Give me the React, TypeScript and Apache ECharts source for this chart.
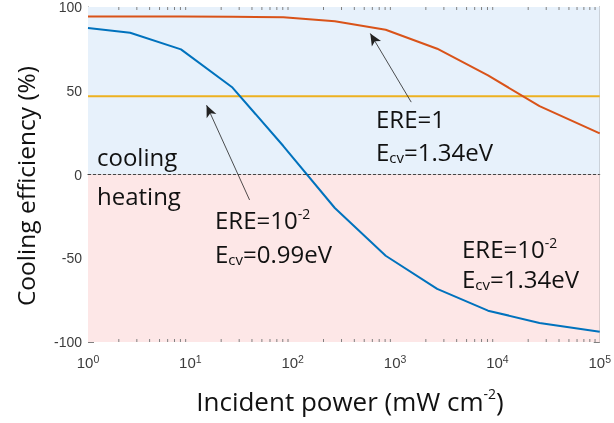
import { useEffect, useRef } from "react";
import * as echarts from "echarts";

// Incident power samples (mW cm^-2)
const powers = [1, 2.58, 8.1, 25.8, 81, 258, 810, 2580, 8100, 25800, 100000];
// ERE = 1, Ecv = 1.34 eV (orange)
const ere1Ecv134 = [94.3, 94.3, 94.3, 94.2, 93.9, 91.5, 86.4, 75.1, 59.2, 40.8, 24.5];
// ERE = 1e-2, Ecv = 1.34 eV (blue)
const ere2Ecv134 = [87.5, 84.6, 74.7, 51.9, 17.0, -20.0, -48.5, -68.3, -81.3, -88.6, -93.9];
// ERE = 1e-2, Ecv = 0.99 eV (yellow)
const flatPowers = [1, 100000];
const ere2Ecv099 = [46.7, 46.7];

const yMin = -100;
const yMax = 100;
const yStep = 50;
const xMin = 1;
const xMax = 100000;

const minorTickValues: number[] = [];
for (let k = 0; k < 5; k++) {
  for (let m = 2; m <= 9; m++) minorTickValues.push(m * Math.pow(10, k));
}

const AXIS = "#808080";
const LABEL = "#3c3c3c";
const FONT = "Open Sans";

const annRich = {
  m: { fontSize: 24, fontFamily: FONT, fill: "#111", lineHeight: 26 },
  sub: { fontSize: 15, fontFamily: FONT, fill: "#111", lineHeight: 12, verticalAlign: "bottom" },
  sup: { fontSize: 14, fontFamily: FONT, fill: "#111", lineHeight: 12, verticalAlign: "top" },
};

function ann(text: string, x: number, y: number) {
  return {
    type: "text",
    x,
    y,
    z: 100,
    silent: true,
    style: {
      text,
      rich: annRich,
      fontSize: 24,
      fontFamily: FONT,
      fill: "#111",
      align: "left",
      verticalAlign: "top",
    },
  };
}

export default function App() {
  const ref = useRef<HTMLDivElement>(null);
  useEffect(() => {
    if (!ref.current) return;
    const chart = echarts.init(ref.current, undefined, { renderer: "svg" });
    const xAxisCommon = {
      type: "log",
      logBase: 10,
      min: xMin,
      max: xMax,
      splitNumber: 5,
      axisLine: { show: true, lineStyle: { color: AXIS, width: 1 } },
      axisTick: { show: true, inside: true, length: 6, lineStyle: { color: AXIS } },
      splitLine: { show: false },
      minorTick: { show: false },
    };
    const yAxisCommon = {
      type: "value",
      min: yMin,
      max: yMax,
      interval: yStep,
      axisLine: { show: true, onZero: false, lineStyle: { color: AXIS, width: 1 } },
      axisTick: { show: true, inside: true, length: 6, lineStyle: { color: AXIS } },
      splitLine: { show: false },
    };
    chart.setOption({
      animation: false,
      grid: { left: 88, right: 13, top: 6, bottom: 81, containLabel: false },
      xAxis: [
        {
          ...xAxisCommon,
          position: "bottom",
          axisLabel: {
            show: true,
            margin: 11,
            formatter: (v: number) => "{b|10}{s|" + Math.round(Math.log10(v)) + "}",
            rich: {
              b: { fontSize: 15, fontFamily: "Liberation Sans", color: LABEL, lineHeight: 19 },
              s: { fontSize: 10.5, fontFamily: "Liberation Sans", color: LABEL, lineHeight: 10, verticalAlign: "top" },
            },
          },
        },
        { ...xAxisCommon, position: "top", axisLabel: { show: false } },
      ],
      yAxis: [
        {
          ...yAxisCommon,
          position: "left",
          axisLabel: { show: true, margin: 6, fontSize: 14, fontFamily: "Liberation Sans", color: LABEL },
        },
        { ...yAxisCommon, position: "right", axisLabel: { show: false } },
      ],
      graphic: [
        {
          type: "text",
          x: 25,
          y: 186,
          rotation: Math.PI / 2,
          silent: true,
          style: {
            text: "Cooling efficiency (%)",
            fontSize: 24.5,
            fontFamily: FONT,
            fill: "#111",
            align: "center",
            verticalAlign: "middle",
          },
        },
        {
          type: "text",
          x: 350,
          y: 401,
          silent: true,
          style: {
            text: "{m|Incident power (mW cm}{sup|-2}{m|)}",
            rich: {
              m: { fontSize: 26, fontFamily: FONT, fill: "#111", lineHeight: 30 },
              sup: { fontSize: 14, fontFamily: FONT, fill: "#111", lineHeight: 14, verticalAlign: "top" },
            },
            fontSize: 26,
            fontFamily: FONT,
            fill: "#111",
            align: "center",
            verticalAlign: "middle",
          },
        },
        ann("{m|cooling}", 97, 143),
        ann("{m|heating}", 97, 182),
        ann("{m|ERE=1}", 376, 105),
        ann("{m|E}{sub|cv}{m|=1.34eV}", 376, 138),
        ann("{m|ERE=10}{sup|-2}", 215, 206),
        ann("{m|E}{sub|cv}{m|=0.99eV}", 215, 240),
        ann("{m|ERE=10}{sup|-2}", 462, 235),
        ann("{m|E}{sub|cv}{m|=1.34eV}", 462, 265),
      ],
      series: [
        {
          name: "bg",
          type: "line",
          data: [],
          xAxisIndex: 0,
          yAxisIndex: 0,
          z: 1,
          silent: true,
          markArea: {
            silent: true,
            data: [
              [{ yAxis: 0, itemStyle: { color: "#e7f1fb" } }, { yAxis: yMax }],
              [{ yAxis: yMin, itemStyle: { color: "#fde7e7" } }, { yAxis: 0 }],
            ],
          },
          markLine: {
            silent: true,
            symbol: ["none", "none"],
            label: { show: false },
            data: [
              { yAxis: 0, lineStyle: { color: "#222", type: [3, 2], width: 0.8 } },
              [
                { coord: [1439, 43.2], symbol: "none", lineStyle: { color: "#222", type: "solid", width: 0.8 } },
                { coord: [573, 84.2], symbol: "arrow", symbolSize: [8, 12] },
              ],
              [
                { coord: [37.9, -15.2], symbol: "none", lineStyle: { color: "#222", type: "solid", width: 0.8 } },
                { coord: [14.4, 41.4], symbol: "arrow", symbolSize: [8, 12] },
              ],
            ],
          },
        },
        {
          name: "ERE=1e-2, Ecv=0.99eV",
          type: "line",
          data: flatPowers.map((p, i) => [p, ere2Ecv099[i]]),
          showSymbol: false,
          z: 3,
          lineStyle: { color: "#EDB120", width: 2 },
        },
        {
          name: "ERE=1, Ecv=1.34eV",
          type: "line",
          data: powers.map((p, i) => [p, ere1Ecv134[i]]),
          showSymbol: false,
          z: 3,
          lineStyle: { color: "#D95319", width: 2 },
        },
        {
          name: "ERE=1e-2, Ecv=1.34eV",
          type: "line",
          data: powers.map((p, i) => [p, ere2Ecv134[i]]),
          showSymbol: false,
          z: 4,
          lineStyle: { color: "#0072BD", width: 2 },
        },
        {
          name: "minorTicks",
          type: "custom",
          silent: true,
          clip: false,
          z: 5,
          data: minorTickValues.map((v) => [v, 0]),
          encode: { x: 0, y: 1 },
          renderItem: (_params: any, api: any) => {
            const v = api.value(0);
            const b = api.coord([v, yMin]);
            const t = api.coord([v, yMax]);
            return {
              type: "group",
              children: [
                { type: "line", shape: { x1: b[0], y1: b[1], x2: b[0], y2: b[1] - 3 }, style: { stroke: AXIS, lineWidth: 1 } },
                { type: "line", shape: { x1: t[0], y1: t[1], x2: t[0], y2: t[1] + 3 }, style: { stroke: AXIS, lineWidth: 1 } },
              ],
            };
          },
        },
      ],
    });
    return () => chart.dispose();
  }, []);
  return <div ref={ref} style={{ position: "fixed", left: 0, top: 0, width: 614, height: 423 }} />;
}
